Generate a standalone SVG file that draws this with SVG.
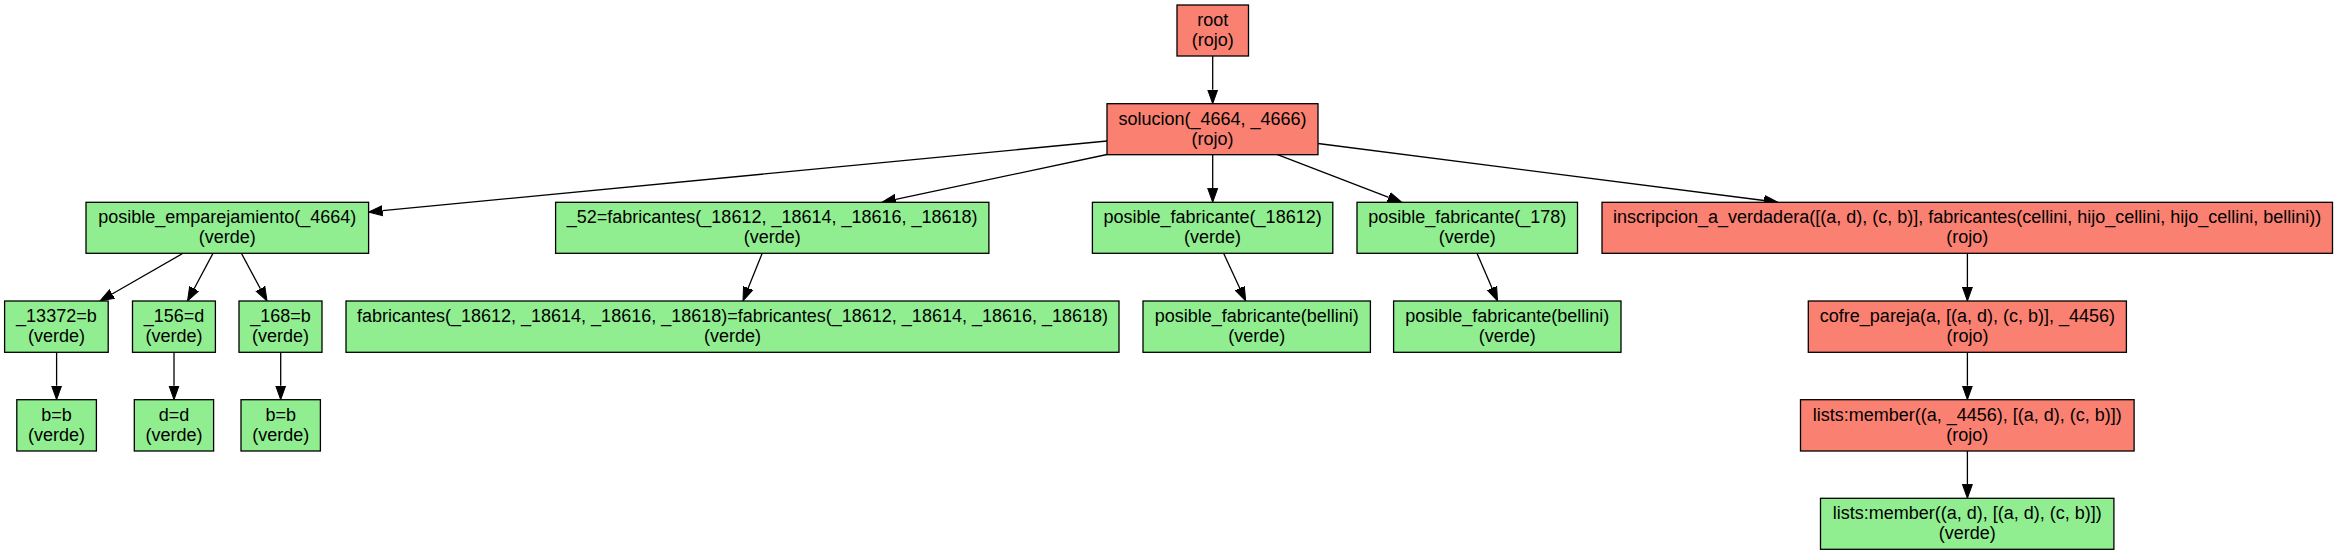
<svg xmlns="http://www.w3.org/2000/svg" width="2338" height="555" viewBox="0 0 2338 555">
<style>
  .n rect { stroke: #000; stroke-width: 1.3; }
  .rojo rect { fill: #FA8072; }
  .verde rect { fill: #90EE90; }
  .n text { font-family: "Liberation Sans", Arial, sans-serif; font-size: 18px; fill: #000; text-anchor: middle; }
  .e path { fill: none; stroke: #000; stroke-width: 1.3; marker-end: url(#arr); }
</style>
<defs>
  <marker id="arr" markerUnits="userSpaceOnUse" markerWidth="16" markerHeight="12" viewBox="0 -6 16 12" refX="0" refY="0" orient="auto">
    <path d="M0,-5 L14,0 L0,5 Z" fill="#000" stroke="#000" stroke-width="1"/>
  </marker>
</defs>
<rect width="2338" height="555" fill="#fff"/>
<g id="edges" class="e">
  <path d="M1212.7,56 L1212.7,89.7"/>
  <path d="M1107,141 L382.5,210.7"/>
  <path d="M1107,154.5 L895.7,199.4"/>
  <path d="M1212.7,154.7 L1212.7,188.3"/>
  <path d="M1277.5,154.7 L1388.7,197.3"/>
  <path d="M1318,143.5 L1764.1,200.5"/>
  <path d="M183,253.3 L112.1,294"/>
  <path d="M213,253.3 L194.1,288.7"/>
  <path d="M241.4,253.3 L260.4,288.7"/>
  <path d="M762.2,253.3 L748.2,288"/>
  <path d="M1223.6,253.3 L1239.8,288.3"/>
  <path d="M1477,253.3 L1492,288.1"/>
  <path d="M1967.4,253.3 L1967.4,287"/>
  <path d="M1967.4,352.3 L1967.4,385.7"/>
  <path d="M1967.4,451 L1967.4,484.3"/>
  <path d="M56.6,352.3 L56.6,385.7"/>
  <path d="M174,352.3 L174,385.7"/>
  <path d="M280.7,352.3 L280.7,385.7"/>
</g>
<g id="root" class="n rojo">
  <rect x="1177" y="5" width="71.5" height="51"/>
  <text x="1212.7" y="26">root</text>
  <text x="1212.7" y="46">(rojo)</text>
</g>
<g id="solucion" class="n rojo">
  <rect x="1107" y="103.7" width="211" height="51"/>
  <text x="1212.5" y="124.7">solucion(_4664, _4666)</text>
  <text x="1212.5" y="144.7">(rojo)</text>
</g>
<g id="posible_emparejamiento" class="n verde">
  <rect x="86" y="202.3" width="282.6" height="51"/>
  <text x="227.3" y="223.3">posible_emparejamiento(_4664)</text>
  <text x="227.3" y="243.3">(verde)</text>
</g>
<g id="fabricantes_52" class="n verde">
  <rect x="555.6" y="202.3" width="433.3" height="51"/>
  <text x="772.2" y="223.3">_52=fabricantes(_18612, _18614, _18616, _18618)</text>
  <text x="772.2" y="243.3">(verde)</text>
</g>
<g id="posible_fabricante_18612" class="n verde">
  <rect x="1092.4" y="202.3" width="240.4" height="51"/>
  <text x="1212.6" y="223.3">posible_fabricante(_18612)</text>
  <text x="1212.6" y="243.3">(verde)</text>
</g>
<g id="posible_fabricante_178" class="n verde">
  <rect x="1357" y="202.3" width="220.5" height="51"/>
  <text x="1467.2" y="223.3">posible_fabricante(_178)</text>
  <text x="1467.2" y="243.3">(verde)</text>
</g>
<g id="inscripcion_a_verdadera" class="n rojo">
  <rect x="1602" y="202.3" width="730.5" height="51"/>
  <text x="1967.2" y="223.3">inscripcion_a_verdadera([(a, d), (c, b)], fabricantes(cellini, hijo_cellini, hijo_cellini, bellini))</text>
  <text x="1967.2" y="243.3">(rojo)</text>
</g>
<g id="n13372" class="n verde">
  <rect x="4.6" y="301" width="103.6" height="51.3"/>
  <text x="56.4" y="322">_13372=b</text>
  <text x="56.4" y="342">(verde)</text>
</g>
<g id="n156" class="n verde">
  <rect x="132.5" y="301" width="82.9" height="51.3"/>
  <text x="174" y="322">_156=d</text>
  <text x="174" y="342">(verde)</text>
</g>
<g id="n168" class="n verde">
  <rect x="239" y="301" width="83" height="51.3"/>
  <text x="280.5" y="322">_168=b</text>
  <text x="280.5" y="342">(verde)</text>
</g>
<g id="fabricantes_eq" class="n verde">
  <rect x="346" y="301" width="773" height="51.3"/>
  <text x="732.5" y="322">fabricantes(_18612, _18614, _18616, _18618)=fabricantes(_18612, _18614, _18616, _18618)</text>
  <text x="732.5" y="342">(verde)</text>
</g>
<g id="posible_fabricante_bellini_1" class="n verde">
  <rect x="1143" y="301" width="227.4" height="51.3"/>
  <text x="1256.7" y="322">posible_fabricante(bellini)</text>
  <text x="1256.7" y="342">(verde)</text>
</g>
<g id="posible_fabricante_bellini_2" class="n verde">
  <rect x="1393.6" y="301" width="227.4" height="51.3"/>
  <text x="1507.3" y="322">posible_fabricante(bellini)</text>
  <text x="1507.3" y="342">(verde)</text>
</g>
<g id="cofre_pareja" class="n rojo">
  <rect x="1808.3" y="301" width="318.1" height="51.3"/>
  <text x="1967.4" y="322">cofre_pareja(a, [(a, d), (c, b)], _4456)</text>
  <text x="1967.4" y="342">(rojo)</text>
</g>
<g id="bb1" class="n verde">
  <rect x="16.8" y="399.7" width="79.6" height="51.3"/>
  <text x="56.6" y="420.7">b=b</text>
  <text x="56.6" y="440.7">(verde)</text>
</g>
<g id="dd" class="n verde">
  <rect x="134.3" y="399.7" width="79.3" height="51.3"/>
  <text x="174" y="420.7">d=d</text>
  <text x="174" y="440.7">(verde)</text>
</g>
<g id="bb2" class="n verde">
  <rect x="241" y="399.7" width="79.4" height="51.3"/>
  <text x="280.7" y="420.7">b=b</text>
  <text x="280.7" y="440.7">(verde)</text>
</g>
<g id="member_rojo" class="n rojo">
  <rect x="1800.5" y="399.7" width="333.6" height="51.3"/>
  <text x="1967.3" y="420.7">lists:member((a, _4456), [(a, d), (c, b)])</text>
  <text x="1967.3" y="440.7">(rojo)</text>
</g>
<g id="member_verde" class="n verde">
  <rect x="1820.5" y="498.3" width="293.4" height="51"/>
  <text x="1967.2" y="519.3">lists:member((a, d), [(a, d), (c, b)])</text>
  <text x="1967.2" y="539.3">(verde)</text>
</g>
</svg>
